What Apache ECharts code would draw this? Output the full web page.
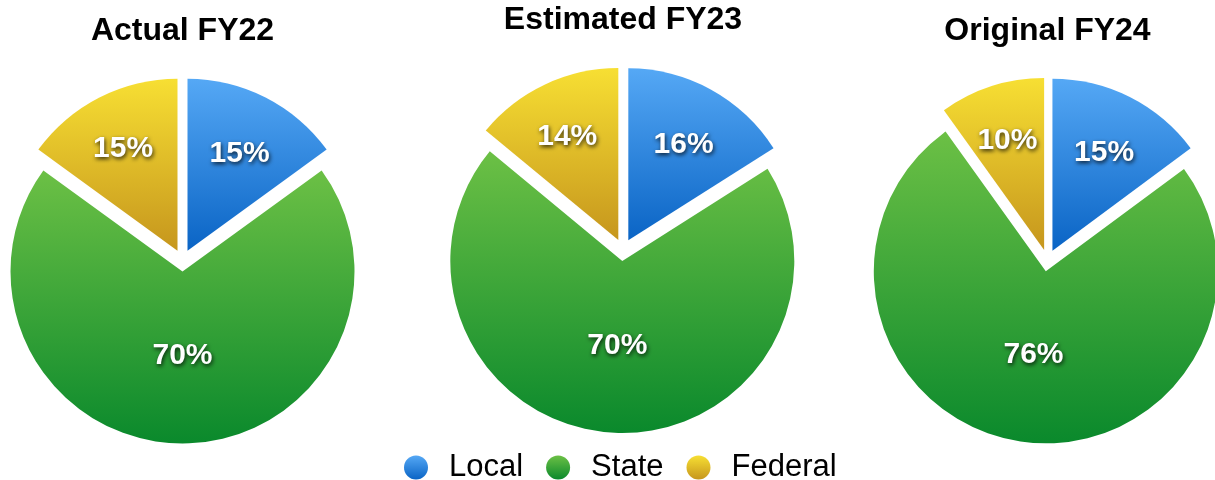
<!DOCTYPE html>
<html>
<head>
<meta charset="utf-8">
<script src="https://cdn.jsdelivr.net/npm/echarts@6/dist/echarts.min.js"></script>
<style>
  html, body { margin: 0; padding: 0; background: #fff; }
  #main { width: 1215px; height: 480px; }
</style>
</head>
<body>
<div id="main"></div>
<script>
// data
var categories = ['Local', 'State', 'Federal'];
var pieTitles = ['Actual FY22', 'Estimated FY23', 'Original FY24'];
var fy22 = [15, 70, 15];
var fy23 = [16, 70, 14];
var fy24 = [15, 76, 10];
var allValues = [fy22, fy23, fy24];

// layout / style
var FONT = 'Liberation Sans';
var R = 172;
var centers = [[182.5, 260.5], [623, 250], [1047.5, 260.5]];
var titleTops = [15, 4, 15];
// where the label sits, as a fraction of the radius (per slice)
var labelDist = [0.65, 0.445, 0.68];
var labelDy = 5;

var gradients = [
    ['#55a8f5', '#0a64c5'],
    ['#6cc045', '#0a892c'],
    ['#f7df33', '#c6961d']
];

function grad(c) {
    return new echarts.graphic.LinearGradient(0, 0, 0, 1, [
        { offset: 0, color: c[0] },
        { offset: 1, color: c[1] }
    ]);
}

// label nudges along each slice's bisector, from the values
function labelShift(values) {
    var total = values.reduce(function (a, b) { return a + b; }, 0);
    var cum = 0;
    return values.map(function (v, i) {
        var a = (cum + v / 2) / total * Math.PI * 2;
        cum += v;
        var d = (labelDist[i] - 0.5) * R;
        return { dx: Math.sin(a) * d, dy: -Math.cos(a) * d + labelDy };
    });
}

var shifts = allValues.map(labelShift);

var chart = echarts.init(document.getElementById('main'), null, { renderer: 'canvas' });

var option = {
    animation: false,
    title: pieTitles.map(function (t, i) {
        return {
            text: t,
            left: centers[i][0],
            top: titleTops[i],
            textAlign: 'center',
            padding: 0,
            textStyle: { fontFamily: FONT, fontSize: 32, fontWeight: 'bold', color: '#000' }
        };
    }),
    legend: {
        data: categories,
        left: 404,
        top: 452,
        padding: 0,
        icon: 'circle',
        itemWidth: 56,
        itemHeight: 24,
        itemGap: 23,
        selectedMode: false,
        textStyle: { fontFamily: FONT, fontSize: 31, color: '#000' }
    },
    series: allValues.map(function (vals, s) {
        return {
            type: 'pie',
            center: centers[s],
            radius: R,
            startAngle: 90,
            clockwise: true,
            selectedMode: 'multiple',
            selectedOffset: 11,
            avoidLabelOverlap: false,
            silent: true,
            label: {
                show: true,
                position: 'inside',
                formatter: '{c}%',
                fontFamily: FONT,
                fontSize: 30,
                fontWeight: 'bold',
                color: '#fff',
                textShadowColor: 'rgba(0,0,0,0.8)',
                textShadowBlur: 4,
                textShadowOffsetX: 1,
                textShadowOffsetY: 2
            },
            labelLine: { show: false },
            labelLayout: function (p) {
                return shifts[s][p.dataIndex];
            },
            select: { itemStyle: { borderWidth: 0 } },
            data: categories.map(function (c, i) {
                return {
                    name: c,
                    value: vals[i],
                    selected: true,
                    itemStyle: { color: grad(gradients[i]) }
                };
            })
        };
    })
};

chart.setOption(option);
window.addEventListener('resize', chart.resize);
</script>
</body>
</html>
